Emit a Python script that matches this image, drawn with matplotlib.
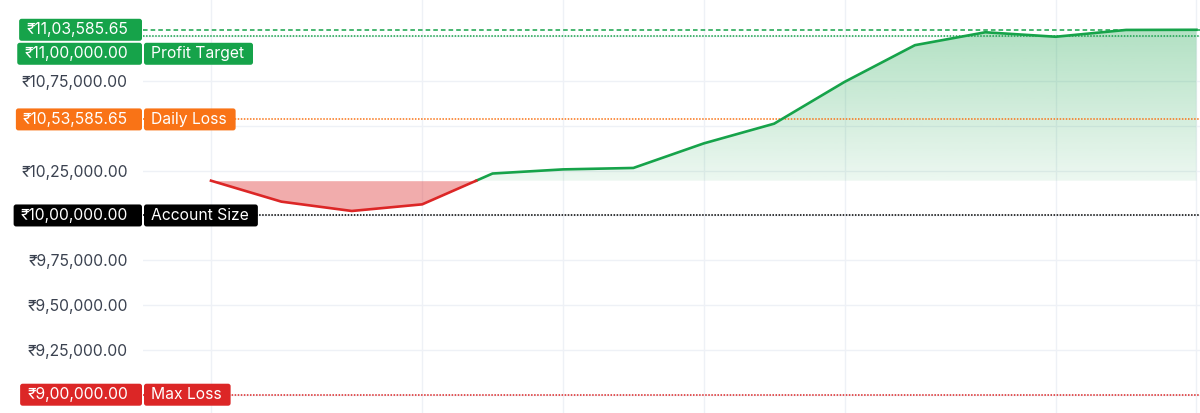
import matplotlib
matplotlib.use("Agg")
import matplotlib.pyplot as plt
import numpy as np
from matplotlib.patches import FancyBboxPatch

# equity per trading day (index = day number)
days = list(range(15))
equity = [1019400, 1007700, 1002500, 1006200, 1023400, 1025700, 1026500,
          1040200, 1051200, 1074500, 1095000, 1102200, 1099700,
          1103500, 1103585.65]
grid_days = [0, 3, 5, 7, 9, 12, 14]
yticks = list(range(900000, 1100001, 25000))

# horizontal reference levels
max_equity = 1103585.65
profit_target = 1100000
daily_loss = 1053585.65
account_size = 1000000
max_loss = 900000

GREEN = "#16a34a"
RED = "#dc2626"
ORANGE = "#f97316"
BLACK = "#000000"
FONT = ["Inter", "DejaVu Sans"]
FS = 11.3

plt.rcParams["font.family"] = FONT


def inr(v):
    whole, frac = f"{v:.2f}".split(".")
    if len(whole) > 3:
        head, tail = whole[:-3], whole[-3:]
        groups = []
        while len(head) > 2:
            groups.insert(0, head[-2:])
            head = head[:-2]
        if head:
            groups.insert(0, head)
        whole = ",".join(groups + [tail])
    return f"\u20b9{whole}.{frac}"


W, H = 1200, 413
fig = plt.figure(figsize=(W / 100, H / 100), dpi=100)
left_px = 143
ax = fig.add_axes([left_px / W, 0, 1 - left_px / W, 1])
for s in ax.spines.values():
    s.set_visible(False)

# ticks hidden behind a level label get no text
covered = {profit_target, 1050000, account_size, max_loss}
ax.set_xticks(grid_days)
ax.set_xticklabels([])
ax.set_yticks(yticks)
ax.set_yticklabels(["" if v in covered else inr(v) for v in yticks])
ax.tick_params(length=0, pad=11, labelsize=FS, labelcolor="#3b4250")
ax.grid(True, color="#eef1f6", linewidth=1)
ax.set_axisbelow(True)

# insert baseline crossings so the line can change colour there
base = equity[0]
xs, ys = [days[0]], [equity[0]]
for i in range(1, len(days)):
    y0, y1 = equity[i - 1], equity[i]
    if (y0 - base) * (y1 - base) < 0:
        t = (base - y0) / (y1 - y0)
        xs.append(days[i - 1] + t * (days[i] - days[i - 1]))
        ys.append(base)
    xs.append(days[i])
    ys.append(y1)
xs = np.array(xs, dtype=float)
ys = np.array(ys, dtype=float)

# red area below start
ax.fill_between(xs, np.minimum(ys, base), base, color=RED, alpha=0.38,
                linewidth=0, zorder=2)

# green gradient area above start
poly = ax.fill_between(xs, np.maximum(ys, base), base, facecolor="none",
                       linewidth=0, zorder=2)
top = ys.max()
grad = np.zeros((256, 1, 4))
grad[:, 0, :3] = matplotlib.colors.to_rgb(GREEN)
grad[:, 0, 3] = np.linspace(0.33, 0.08, 256)
im = ax.imshow(grad, extent=(xs[0], xs[-1], base, top), aspect="auto",
               origin="upper", zorder=2, interpolation="bilinear")
im.set_clip_path(poly.get_paths()[0], transform=ax.transData)
ax.set_xlim(-0.966, 14.05)
ax.set_ylim(889800, 1120200)

above = np.where(ys >= base, ys, np.nan)
below = np.where(ys <= base, ys, np.nan)
ax.plot(xs, above, color=GREEN, linewidth=1.9, zorder=4, solid_joinstyle="round")
ax.plot(xs, below, color=RED, linewidth=1.9, zorder=4, solid_joinstyle="round")

# level lines
dotted = (0, (1, 1))
ax.axhline(max_equity, color=GREEN, linewidth=1.1, linestyle=(0, (3, 2)), zorder=3)
ax.axhline(profit_target, color=GREEN, linewidth=1.1, linestyle=dotted, zorder=3)
ax.axhline(daily_loss, color=ORANGE, linewidth=1.1, linestyle=dotted, zorder=3)
ax.axhline(account_size, color=BLACK, linewidth=1.1, linestyle=dotted, zorder=3)
ax.axhline(max_loss, color=RED, linewidth=1.1, linestyle=dotted, zorder=3)

# labels: (value, title, colour, pushed below previous label?)
labels = [
    (max_equity, None, GREEN, False),
    (profit_target, "Profit Target", GREEN, True),
    (daily_loss, "Daily Loss", ORANGE, False),
    (account_size, "Account Size", BLACK, False),
    (max_loss, "Max Loss", RED, False),
]

fig.canvas.draw()
renderer = fig.canvas.get_renderer()
box_h = 22
prev_y = None
for value, title, color, pushed in labels:
    y_pix = ax.transData.transform((0, value))[1]
    if pushed:
        y_pix = prev_y - (box_h + 2)
    prev_y = y_pix
    t = fig.text((left_px - 15) / W, y_pix / H, inr(value), ha="right",
                 va="center", color="white", fontsize=FS, zorder=11)
    bb = t.get_window_extent(renderer)
    box = FancyBboxPatch((bb.x0 - 7, y_pix - box_h / 2),
                         left_px - 1 - (bb.x0 - 7), box_h,
                         boxstyle="round,pad=0,rounding_size=2.5",
                         facecolor=color, edgecolor="none",
                         transform=None, zorder=10)
    fig.add_artist(box)
    if title:
        t2 = fig.text((left_px + 8) / W, y_pix / H, title, ha="left",
                      va="center", color="white", fontsize=FS, zorder=11)
        bb2 = t2.get_window_extent(renderer)
        box2 = FancyBboxPatch((left_px + 1, y_pix - box_h / 2),
                              bb2.x1 + 9 - (left_px + 1), box_h,
                              boxstyle="round,pad=0,rounding_size=2.5",
                              facecolor=color, edgecolor="none",
                              transform=None, zorder=10)
        fig.add_artist(box2)

fig.savefig("out.png", dpi=100)
